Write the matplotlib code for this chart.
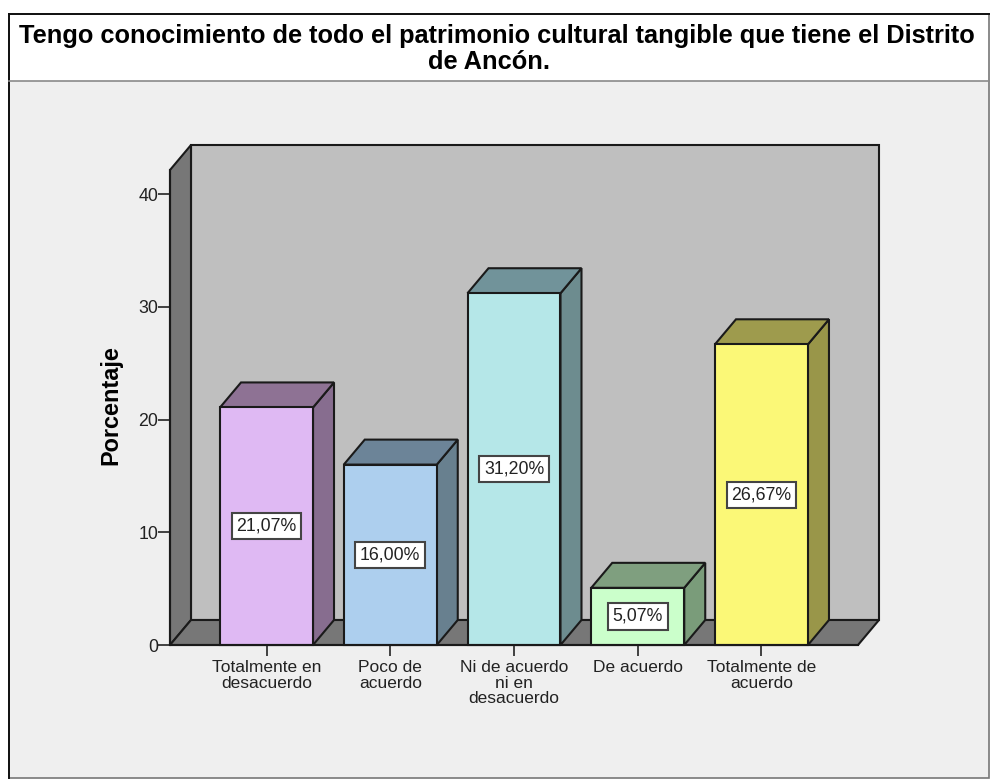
from matplotlib import pyplot as plt
from matplotlib.patches import Rectangle

categories = [
    "Totalmente en\ndesacuerdo",
    "Poco de\nacuerdo",
    "Ni de acuerdo\nni en\ndesacuerdo",
    "De acuerdo",
    "Totalmente de\nacuerdo",
]
values = [21.07, 16.00, 31.20, 5.07, 26.67]
labels = ["21,07%", "16,00%", "31,20%", "5,07%", "26,67%"]
y_ticks = [0, 10, 20, 30, 40]
front_colors = ["#DFB9F3", "#ADCFEE", "#B5E7E8", "#CBFFCB", "#FBF877"]
side_colors = ["#876D8F", "#68808F", "#6D8C8F", "#7A9C7A", "#999649"]
top_colors = ["#8E7294", "#6C8498", "#71939A", "#7F9F7F", "#9E9B4D"]
title_line1 = "Tengo conocimiento de todo el patrimonio cultural tangible que tiene el Distrito"
title_line2 = "de Ancón."

W, H = 992, 784
LINE = "#1a1a1a"
plt.rcParams["font.family"] = ["Liberation Sans", "DejaVu Sans"]


def fig_rect(fig, x0, y0, x1, y1, **kwargs):
    # pixel coords from the top left of the image
    fig.add_artist(
        Rectangle(
            (x0 / W, 1 - y1 / H),
            (x1 - x0) / W,
            (y1 - y0) / H,
            transform=fig.transFigure,
            zorder=-2,
            **kwargs,
        )
    )


fig = plt.figure(figsize=(W / 100, H / 100), dpi=100, facecolor="white")
fig_rect(fig, 9, 81, 989, 778, facecolor="#EFEFEF", edgecolor="none")
fig_rect(fig, 9, 14, 989, 778, facecolor="none", edgecolor="#777777", linewidth=1.2)
fig.add_artist(plt.Line2D([9 / W, 9 / W], [1 - 778 / H, 1 - 14 / H], color="#111111", lw=1.4, zorder=-1))
fig.add_artist(plt.Line2D([9 / W, 989 / W], [1 - 14 / H, 1 - 14 / H], color="#111111", lw=1.4, zorder=-1))
fig.add_artist(plt.Line2D([9 / W, 989 / W], [1 - 81 / H, 1 - 81 / H], color="#8a8a8a", lw=1.2, zorder=-1))

fig.text(
    497 / W, 1 - 43 / H, title_line1, ha="center", va="baseline",
    fontsize=18.3, fontweight="bold", color="black",
)
fig.text(
    488.5 / W, 1 - 69 / H, title_line2, ha="center", va="baseline",
    fontsize=18.3, fontweight="bold", color="black",
)

ax = fig.add_axes([170 / W, 1 - 645 / H, 688 / W, 475 / H])
x_left, x_right = -0.78, 4.78
y_top = 42.13
ax.set_xlim(x_left, x_right)
ax.set_ylim(0, y_top)
ax.patch.set_alpha(0)

depth_x = 21 / 123.75
depth_y = 25 / 11.275
half = 46.5 / 123.75

# back wall, left wall, floor
ax.fill(
    [x_left + depth_x, x_right + depth_x, x_right + depth_x, x_left + depth_x],
    [depth_y, depth_y, y_top + depth_y, y_top + depth_y],
    facecolor="#BFBFBF", edgecolor=LINE, linewidth=1.5, clip_on=False, zorder=1,
)
ax.fill(
    [x_left, x_left + depth_x, x_left + depth_x, x_left],
    [0, depth_y, y_top + depth_y, y_top],
    facecolor="#777777", edgecolor=LINE, linewidth=1.5, clip_on=False, zorder=1,
)
ax.fill(
    [x_left, x_left + depth_x, x_right + depth_x, x_right],
    [0, depth_y, depth_y, 0],
    facecolor="#777777", edgecolor=LINE, linewidth=1.5, clip_on=False, zorder=1,
)

positions = range(len(values))
for i, v in zip(positions, values):
    ax.fill(
        [i + half, i + half + depth_x, i + half + depth_x, i + half],
        [0, depth_y, v + depth_y, v],
        facecolor=side_colors[i], edgecolor=LINE, linewidth=1.5, clip_on=False, zorder=2,
    )
    ax.fill(
        [i - half, i - half + depth_x, i + half + depth_x, i + half],
        [v, v + depth_y, v + depth_y, v],
        facecolor=top_colors[i], edgecolor=LINE, linewidth=1.5, clip_on=False, zorder=2,
    )
ax.bar(
    list(positions), values, width=2 * half, color=front_colors,
    edgecolor=LINE, linewidth=1.5, zorder=3, clip_on=False,
)

for i, v in zip(positions, values):
    ax.text(
        i, v / 2, labels[i], ha="center", va="center", fontsize=12.8, color="#222222", zorder=5,
        bbox=dict(boxstyle="square,pad=0.26", facecolor="white", edgecolor="#444444", linewidth=1.5),
    )

for side in ["top", "right"]:
    ax.spines[side].set_visible(False)
for side in ["left", "bottom"]:
    ax.spines[side].set_color(LINE)
    ax.spines[side].set_linewidth(1.5)
    ax.spines[side].set_zorder(4)

ax.set_yticks(y_ticks)
ax.set_xticks(list(positions))
ax.set_xticklabels(categories, fontsize=12.5, linespacing=1.05, color="#222222")
ax.tick_params(axis="y", length=8.5, width=1.3, color="#333333", pad=0, labelsize=12.8, labelcolor="#222222")
ax.tick_params(axis="x", length=8, width=1.3, color="#333333", pad=3)
fig.text(
    111 / W, 1 - 405 / H, "Porcentaje", rotation=90, ha="center", va="center",
    fontsize=16.9, fontweight="bold", color="black",
)

fig.savefig("out.png", dpi=100)
